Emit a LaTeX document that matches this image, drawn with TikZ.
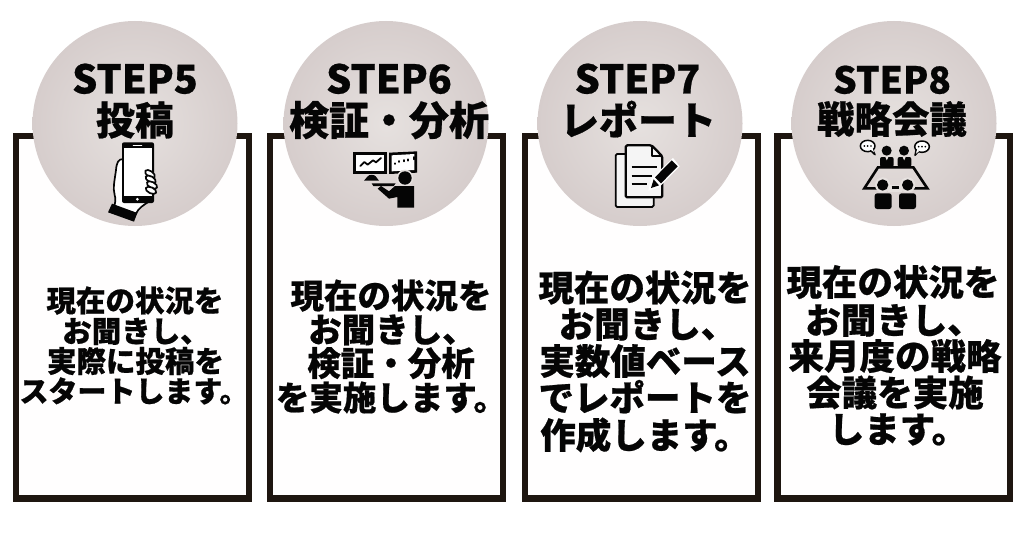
\documentclass[tikz,border=0pt]{standalone}
\usepackage{fontspec}
\newfontfamily\jph[FakeBold=0.6]{Noto Sans CJK JP Black}
\definecolor{frame}{HTML}{1E1610}
\definecolor{ink}{HTML}{050505}
\definecolor{disc}{HTML}{D6CDCC}
\definecolor{disclight}{HTML}{E6E1DF}
\definecolor{paper}{HTML}{FFFEFE}
\tikzset{
  panel/.style={draw=frame,line width=6.5pt,fill=paper,minimum width=232.6pt,minimum height=362.3pt,inner sep=0pt,outer sep=0pt,anchor=north west},
  disk/.style={circle,minimum size=205pt,inner sep=0pt,outer sep=0pt,shading=radial,inner color=disclight,outer color=disc},
  head/.style={inner sep=0pt,text=ink,font=\jph\fontsize{#1}{#1}\selectfont,text height=0.88*#1pt,text depth=0.12*#1pt},
  capt/.style={inner sep=0pt,text=ink,font=\jph\fontsize{#1}{#1}\selectfont,text height=0.733*#1pt,text depth=0pt},
  body/.style={inner sep=0pt,text=ink,font=\jph\fontsize{#1}{#1}\selectfont,text height=0.88*#1pt,text depth=0.12*#1pt},
  crop/.style={x=0.33333pt,y=-0.33333pt},
  stk/.style={draw=ink,line width=#1,line cap=round,line join=round},
  stk/.default=1.5pt
}
\begin{document}
\begin{tikzpicture}[x=1pt,y=-1pt]
\useasboundingbox (0,0) rectangle (1024,543);
\fill[white] (0,0) rectangle (1024,543);
% panels
\node[panel] (p5) at (16.2,136.2) {};
\node[panel] (p6) at (270.2,136.2) {};
\node[panel] (p7) at (525.2,136.2) {};
\node[panel] (p8) at (777.5,136.2) {};
% discs
\node[disk] (d5) at (135,123.5) {};
\node[disk] (d6) at (386,123.5) {};
\node[disk] (d7) at (640,123.5) {};
\node[disk] (d8) at (894,123.5) {};
% headings
\node[capt=39.5] (s5) at (135,79) {STEP5};
\node[head=39] (t5) at (135,120) {投稿};
\node[capt=39.5] (s6) at (389,79) {STEP6};
\node[head=40] (t6) at (389,120) {検証・分析};
\node[capt=39.5] (s7) at (637.5,79) {STEP7};
\node[head=39] (t7) at (638,120) {レポート};
\node[capt=37] (s8) at (892,80) {STEP8};
\node[head=37.5] (t8) at (892,119) {戦略会議};
% body 5
\node[body=29.5] (a1) at (135,300.5) {現在の状況を};
\node[body=29.5] (a2) at (136,331) {お聞きし、};
\node[body=29.5] (a3) at (135.5,361) {実際に投稿を};
\node[body=29] (a4) at (134,391) {スタートします。};
% body 6
\node[body=33.5] (b1) at (391,295.5) {現在の状況を};
\node[body=33.5] (b2) at (392,329.5) {お聞きし、};
\node[body=33.5] (b3) at (391,363) {検証・分析};
\node[body=33.5] (b4) at (391.5,397.5) {を実施します。};
% body 7
\node[body=35.5] (c1) at (645,287.5) {現在の状況を};
\node[body=35.5] (c2) at (647.5,324) {お聞きし、};
\node[body=35.5] (c3) at (645,361) {実数値ベース};
\node[body=35.5] (c4) at (645,397.5) {でレポートを};
\node[body=35.5] (c5) at (645,435) {作成します。};
% body 8
\node[body=35.5] (e1) at (893,282) {現在の状況を};
\node[body=35.5] (e2) at (894,320) {お聞きし、};
\node[body=35.5] (e3) at (895,356) {来月度の戦略};
\node[body=35.5] (e4) at (895,392.5) {会議を実施};
\node[body=35.5] (e5) at (898,429) {します。};
% icon: phone in hand
\begin{scope}[shift={(100,135)},crop]
\path[fill=white,stk=1.7pt] (70,72) .. controls (55,72) and (50,82) .. (48,105) .. controls (44,135) and (38,160) .. (44,180) .. controls (48,192) and (46,205) .. (42,214) -- (108,236) .. controls (115,220) and (130,210) .. (150,198) -- (150,180) -- (70,180) -- cycle;
\fill[ink,rounded corners=2pt] (66,22) rectangle (162,204);
\fill[white] (72,40) rectangle (156,184);
\draw[white,line width=1.2pt,line cap=round] (100,31) -- (125,31);
\fill[white] (112,193) circle (4.5);
\fill[ink] (36,206) -- (112,234) -- (102,260) -- (24,232) -- cycle;
\foreach \cx/\cy/\rr in {150/117/-35,152/133/-30,156/150/-28,153/166/-25}
  \path[fill=white,stk=1.7pt,rotate around={\rr:(\cx,\cy)}] (\cx,\cy) ellipse (17 and 9);
\end{scope}
% icon: analyst at monitors
\begin{scope}[shift={(345,142)},crop]
\fill[ink] (25,29) rectangle (126,96);
\fill[white] (34,38) rectangle (118,86);
\draw[stk=1.8pt] (46,72) -- (58,60) -- (68,68) -- (84,55) -- (93,61) -- (108,48);
\fill[ink] (132,32) -- (216,28) -- (216,92) -- (132,96) -- cycle;
\fill[white] (140,40) -- (208,36) -- (208,84) -- (140,88) -- cycle;
\draw[stk=1.8pt] (150,66) -- (150,64) (163,60) -- (163,57) (176,58) -- (176,54) (190,56) -- (190,52) (206,52) -- (206,45);
\fill[disclight] (180,108) circle (25);
\fill[ink] (180,108) circle (20);
\fill[ink] (57,116) -- (68,103) .. controls (72,97) and (88,97) .. (92,103) -- (102,116) -- cycle;
\fill[ink] (80,124) -- (152,124) -- (146,132) -- (85,132) -- cycle;
\fill[ink] (150,132) -- (207,132) -- (207,197) -- (157,197) -- (157,165) -- (132,170) -- (98,140) -- (108,132) -- (132,148) -- cycle;
\end{scope}
% icon: documents and pencil
\begin{scope}[shift={(605,138)},crop]
\path[fill=white!96!black,draw=ink,line width=1.8pt,rounded corners=1.5pt] (32,48) rectangle (146,207);
\path[fill=white!96!black,draw=ink,line width=2.3pt,line join=round,rounded corners=1.5pt] (62,22) -- (140,22) -- (172,55) -- (172,178) -- (62,178) -- cycle;
\draw[ink,line width=2pt,line join=round] (140,22) -- (140,55) -- (172,55);
\draw[ink,line width=1.8pt] (80,87) -- (155,87) (80,113) -- (140,113) (80,138) -- (125,138);
\fill[white] (204,60) -- (224,85) -- (160,150) -- (130,158) -- (138,122) -- cycle;
\fill[ink] (200,67) -- (218,85) -- (168,136) -- (150,118) -- cycle;
\fill[ink] (146,124) -- (162,142) -- (138,150) -- cycle;
\end{scope}
% icon: meeting
\begin{scope}[shift={(850,135)},crop]
\path[fill=white,stk=1.5pt] (53,33) ellipse (22 and 17);
\path[fill=white,stk=1.5pt] (216,35) ellipse (22 and 17);
\path[fill=white,stk=1.5pt] (62,47) -- (75,59) -- (68,44);
\path[fill=white,stk=1.5pt] (205,50) -- (195,61) -- (198,46);
\fill[white] (60,42) -- (68,40) -- (72,52) -- cycle (202,44) -- (208,48) -- (198,56) -- cycle;
\foreach \q in {43,53,63} \fill[ink] (\q,33) circle (2.8);
\foreach \q in {206,216,226} \fill[ink] (\q,35) circle (2.8);
\fill[ink] (110,47) circle (15);
\fill[ink] (162,47) circle (15);
\fill[ink,rounded corners=2pt] (90,66) rectangle (131,96);
\fill[ink,rounded corners=2pt] (143,66) rectangle (184,96);
\fill[disclight] (106,66) -- (115,66) -- (110.5,76) -- cycle (158,66) -- (167,66) -- (162.5,76) -- cycle;
\path[draw=ink,line width=2.6pt,line join=miter] (84,97) -- (190,97) -- (232,160) -- (43,160) -- cycle;
\fill[disclight] (98,150) circle (23);
\fill[disclight] (173,150) circle (23);
\fill[disclight] (115,150) rectangle (156,170);
\draw[ink,line width=2.4pt] (125,157) -- (148,157);
\fill[ink] (98,150) circle (17);
\fill[ink] (173,150) circle (17);
\fill[ink,rounded corners=2.5pt] (74,175) -- (125,175) -- (125,222) -- (74,222) -- cycle;
\fill[ink,rounded corners=2.5pt] (147,175) -- (198,175) -- (198,222) -- (147,222) -- cycle;
\end{scope}
\end{tikzpicture}
\end{document}
